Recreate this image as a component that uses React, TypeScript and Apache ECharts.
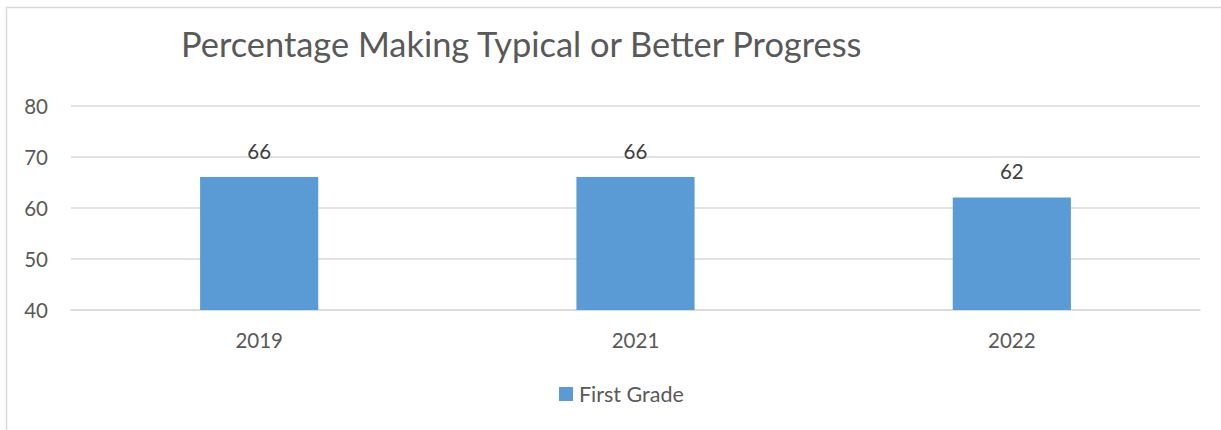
import React, { useEffect, useRef } from "react";
import * as echarts from "echarts";

const categories = ["2019", "2021", "2022"];
const firstGrade = [66, 66, 62];
const seriesName = "First Grade";
const chartTitle = "Percentage Making Typical or Better Progress";
const yMin = 40;
const yMax = 80;
const yStep = 10;

const FONT = "Lato, 'Noto Sans', sans-serif";
const TEXT = "#595959";

export default function App() {
  const ref = useRef<HTMLDivElement>(null);
  useEffect(() => {
    if (!ref.current) return;
    const chart = echarts.init(ref.current, undefined, { renderer: "svg" });
    chart.setOption({
      animation: false,
      backgroundColor: "#ffffff",
      textStyle: { fontFamily: FONT },
      title: {
        text: chartTitle,
        left: 176,
        top: 21,
        textStyle: { fontFamily: FONT, fontSize: 34.4, fontWeight: "normal", color: TEXT },
      },
      graphic: [
        {
          type: "rect",
          shape: { x: 6.5, y: 7.5, width: 1300, height: 500 },
          style: { fill: "none", stroke: "#d9d9d9", lineWidth: 1.5 },
          silent: true,
        },
      ],
      legend: {
        data: [seriesName],
        left: 559,
        top: 383,
        padding: 0,
        icon: "rect",
        itemWidth: 14,
        itemHeight: 14,
        itemGap: 6,
        textStyle: { fontFamily: FONT, fontSize: 21.5, color: TEXT, padding: [0, 0, 0, 1] },
      },
      grid: { left: 71, right: 21, top: 105.5, bottom: 120, containLabel: false },
      xAxis: {
        type: "category",
        data: categories,
        axisLine: { show: true, lineStyle: { color: "#d9d9d9", width: 1.5 } },
        axisTick: { show: false },
        axisLabel: { fontFamily: FONT, fontSize: 20.5, color: TEXT, margin: 19 },
      },
      yAxis: {
        type: "value",
        min: yMin,
        max: yMax,
        interval: yStep,
        axisLine: { show: false },
        axisTick: { show: false },
        splitLine: { lineStyle: { color: "#d9d9d9", width: 1.5 } },
        axisLabel: { fontFamily: FONT, fontSize: 20.5, color: TEXT, margin: 23 },
      },
      series: [
        {
          name: seriesName,
          type: "bar",
          data: firstGrade,
          barWidth: "31.4%",
          itemStyle: { color: "#5b9bd5" },
          label: {
            show: true,
            position: "top",
            distance: 16,
            fontFamily: FONT,
            fontSize: 20.5,
            color: "#404040",
          },
        },
      ],
    });
    return () => chart.dispose();
  }, []);
  return (
    <div
      ref={ref}
      style={{ position: "fixed", left: 0, top: 0, width: 1221, height: 430 }}
    />
  );
}
